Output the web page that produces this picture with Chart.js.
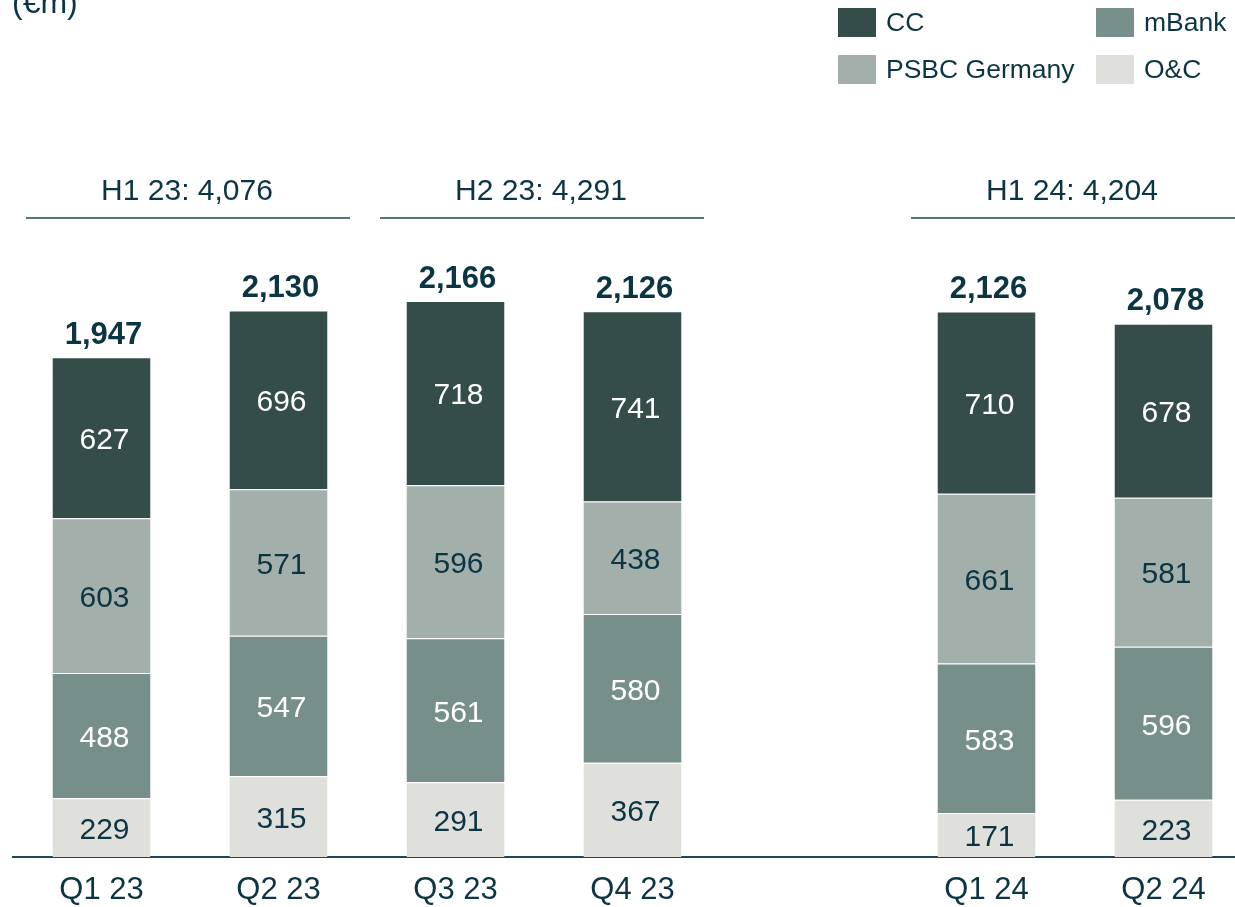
<!DOCTYPE html>
<html>
<head>
<meta charset="utf-8">
<script src="https://cdn.jsdelivr.net/npm/chart.js@4"></script>
<style>
  html, body { margin: 0; padding: 0; background: #fff; overflow: hidden; }
</style>
</head>
<body>
<canvas id="chart" width="1252" height="907"></canvas>
<script>
// quarters, with an empty slot between 2023 and 2024
const quarters = ['Q1 23', 'Q2 23', 'Q3 23', 'Q4 23', '', 'Q1 24', 'Q2 24'];

const ocValues    = [229, 315, 291, 367, null, 171, 223];
const mbankValues = [488, 547, 561, 580, null, 583, 596];
const psbcValues  = [603, 571, 596, 438, null, 661, 581];
const ccValues    = [627, 696, 718, 741, null, 710, 678];
// reported totals (rounded, so not always the exact sum)
const totals      = [1947, 2130, 2166, 2126, null, 2126, 2078];

// half-year headers over pairs of quarters
const halfLabels = ['H1 23: 4,076', 'H2 23: 4,291', 'H1 24: 4,204'];
const halfFirst  = [0, 2, 5];

const textColor = '#0c3543';
const font = '"Liberation Sans", Arial, sans-serif';

const colors = {
  cc: '#344d4a',
  mbank: '#778f8a',
  psbc: '#a2afab',
  oc: '#dfe0dc'
};

const totalsAndLabels = {
  id: 'totalsAndLabels',
  afterDatasetsDraw(chart) {
    const ctx = chart.ctx;
    ctx.save();
    ctx.textAlign = 'center';
    ctx.textBaseline = 'middle';
    chart.data.datasets.forEach((ds, i) => {
      const meta = chart.getDatasetMeta(i);
      ctx.fillStyle = ds.labelColor;
      ctx.font = '30px ' + font;
      meta.data.forEach((bar, j) => {
        const v = ds.data[j];
        if (v == null) return;
        ctx.fillText(String(v), bar.x + 3, (bar.y + bar.base) / 2 + 3);
      });
    });
    // totals above the top segment
    const topMeta = chart.getDatasetMeta(chart.data.datasets.length - 1);
    ctx.font = 'bold 31px ' + font;
    ctx.fillStyle = textColor;
    totals.forEach((t, j) => {
      if (t == null) return;
      const bar = topMeta.data[j];
      ctx.fillText(t.toLocaleString('en-US'), bar.x + 2, bar.y - 22);
    });
    ctx.restore();
  }
};

const headers = {
  id: 'headers',
  afterDraw(chart) {
    const ctx = chart.ctx;
    const x = chart.scales.x;
    ctx.save();
    // unit label, partly cut off at the top
    ctx.fillStyle = textColor;
    ctx.font = '32px ' + font;
    ctx.textAlign = 'left';
    ctx.textBaseline = 'alphabetic';
    ctx.fillText('(€m)', 12, 13);

    // half-year brackets
    ctx.font = '30px ' + font;
    ctx.textAlign = 'center';
    ctx.textBaseline = 'middle';
    ctx.strokeStyle = '#1f4652';
    ctx.lineWidth = 1.5;
    halfLabels.forEach((lbl, k) => {
      const a = x.getPixelForValue(halfFirst[k]);
      const b = x.getPixelForValue(halfFirst[k] + 1);
      const c = (a + b) / 2;
      ctx.beginPath();
      ctx.moveTo(c - 164, 218);
      ctx.lineTo(c + 160, 218);
      ctx.stroke();
      ctx.fillText(lbl, c - 3, 192);
    });

    // legend in a 2x2 grid
    const items = [
      ['CC', colors.cc, 838, 8],
      ['mBank', colors.mbank, 1096, 8],
      ['PSBC Germany', colors.psbc, 838, 55],
      ['O&C', colors.oc, 1096, 55]
    ];
    ctx.font = '26.5px ' + font;
    ctx.textAlign = 'left';
    items.forEach(([name, col, lx, ly]) => {
      ctx.fillStyle = col;
      ctx.fillRect(lx, ly, 38, 29);
      ctx.fillStyle = textColor;
      ctx.fillText(name, lx + 48, ly + 16);
    });
    ctx.restore();
  }
};

new Chart(document.getElementById('chart').getContext('2d'), {
  type: 'bar',
  data: {
    labels: quarters,
    datasets: [
      { label: 'O&C', data: ocValues, backgroundColor: colors.oc, labelColor: textColor },
      { label: 'mBank', data: mbankValues, backgroundColor: colors.mbank, labelColor: '#ffffff' },
      { label: 'PSBC Germany', data: psbcValues, backgroundColor: colors.psbc, labelColor: textColor },
      { label: 'CC', data: ccValues, backgroundColor: colors.cc, labelColor: '#ffffff' }
    ]
  },
  options: {
    responsive: false,
    animation: false,
    layout: { padding: { left: 13, right: 0, top: 87, bottom: 0 } },
    datasets: {
      bar: {
        categoryPercentage: 1,
        barPercentage: 0.554,
        borderColor: '#ffffff',
        borderWidth: { top: 1, bottom: 0, left: 0, right: 0 },
        borderSkipped: false
      }
    },
    plugins: {
      legend: { display: false },
      tooltip: { enabled: false }
    },
    scales: {
      x: {
        stacked: true,
        grid: { display: false, drawTicks: false },
        border: { display: true, color: '#1f4652', width: 2 },
        ticks: {
          color: textColor,
          font: { family: font, size: 31 },
          padding: 15,
          maxRotation: 0
        },
        afterFit(scale) { scale.height = 50; }
      },
      y: {
        stacked: true,
        display: false,
        min: 0,
        max: 3000
      }
    }
  },
  plugins: [totalsAndLabels, headers]
});
</script>
</body>
</html>
